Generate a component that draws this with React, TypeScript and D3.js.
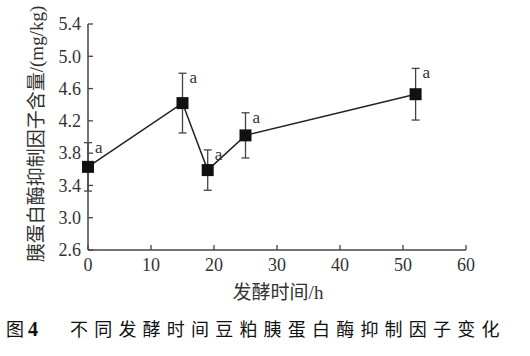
import React from "react";
import * as d3 from "d3";

const times = [0, 15, 19, 25, 52];
const values = [3.63, 4.42, 3.59, 4.02, 4.53];
const errors = [0.3, 0.37, 0.25, 0.28, 0.32];
const letters = ["a", "a", "a", "a", "a"];
const xTicks = [0, 10, 20, 30, 40, 50, 60];
const yTicks = [2.6, 3.0, 3.4, 3.8, 4.2, 4.6, 5.0, 5.4];

const W = 530;
const H = 356;
const left = 88;
const right = 466;
const top = 24;
const bottom = 250;
const serif = "'Liberation Serif', 'DejaVu Serif', serif";
const cjk = "'Noto Sans CJK SC', sans-serif";

export default function App() {
  const x = d3.scaleLinear().domain([0, 60]).range([left, right]);
  const y = d3.scaleLinear().domain([2.6, 5.4]).range([bottom, top]);
  const line = d3
    .line<number>()
    .x((_, i) => x(times[i]))
    .y((d) => y(d));
  const col = "#222";
  return (
    <svg
      width={W}
      height={H}
      style={{ position: "absolute", left: 0, top: 0, background: "#fff" }}
    >
      {/* axes */}
      <line x1={left} x2={left} y1={top} y2={bottom} stroke="#444" strokeWidth={1.5} />
      <line x1={left} x2={right} y1={bottom} y2={bottom} stroke="#444" strokeWidth={1.5} />
      {yTicks.map((t) => (
        <g key={"y" + t}>
          <line x1={left} x2={left + 5} y1={y(t)} y2={y(t)} stroke="#444" strokeWidth={1.3} />
          <text
            x={left - 7}
            y={y(t)}
            dy="0.35em"
            textAnchor="end"
            fontFamily={serif}
            fontSize={18}
            fill="#333"
          >
            {t.toFixed(1)}
          </text>
        </g>
      ))}
      {xTicks.map((t) => (
        <g key={"x" + t}>
          <line x1={x(t)} x2={x(t)} y1={bottom} y2={bottom - 5} stroke="#444" strokeWidth={1.3} />
          <text
            x={x(t)}
            y={bottom + 21}
            textAnchor="middle"
            fontFamily={serif}
            fontSize={18}
            fill="#333"
          >
            {t}
          </text>
        </g>
      ))}
      {/* line */}
      <path d={line(values) || ""} fill="none" stroke={col} strokeWidth={1.5} />
      {/* error bars */}
      {values.map((v, i) => {
        const cx = x(times[i]);
        const y1 = y(v + errors[i]);
        const y2 = y(v - errors[i]);
        return (
          <g key={"e" + i}>
            <line x1={cx} x2={cx} y1={y1} y2={y2} stroke="#444" strokeWidth={1.3} />
            <line x1={cx - 4} x2={cx + 4} y1={y1} y2={y1} stroke="#444" strokeWidth={1.3} />
            <line x1={cx - 4} x2={cx + 4} y1={y2} y2={y2} stroke="#444" strokeWidth={1.3} />
            <rect x={cx - 6} y={y(v) - 6} width={12} height={12} fill="#111" />
            <text
              x={cx + 7}
              y={y1 + 10}
              fontFamily={serif}
              fontSize={17}
              fill="#333"
            >
              {letters[i]}
            </text>
          </g>
        );
      })}
      {/* axis titles */}
      <text
        transform={`translate(43, ${(top + bottom) / 2 - 3}) rotate(-90)`}
        textAnchor="middle"
        fontSize={19}
        fill="#333"
      >
        <tspan fontFamily={cjk}>胰蛋白酶抑制因子含量</tspan>
        <tspan fontFamily={serif}>/(mg/kg)</tspan>
      </text>
      <text x={278} y={299} textAnchor="middle" fontSize={19} fill="#333">
        <tspan fontFamily={cjk}>发酵时间</tspan>
        <tspan fontFamily={serif}>/h</tspan>
      </text>
      {/* caption */}
      <text x={6} y={336} fontSize={18} fill="#111">
        <tspan fontFamily={cjk}>图 </tspan>
        <tspan fontFamily={serif} fontWeight="bold" fontSize={20}>4</tspan>
      </text>
      <text x={70} y={336} fontSize={18} fill="#111" fontFamily={cjk} letterSpacing={6.2}>
        不同发酵时间豆粕胰蛋白酶抑制因子变化
      </text>
    </svg>
  );
}
